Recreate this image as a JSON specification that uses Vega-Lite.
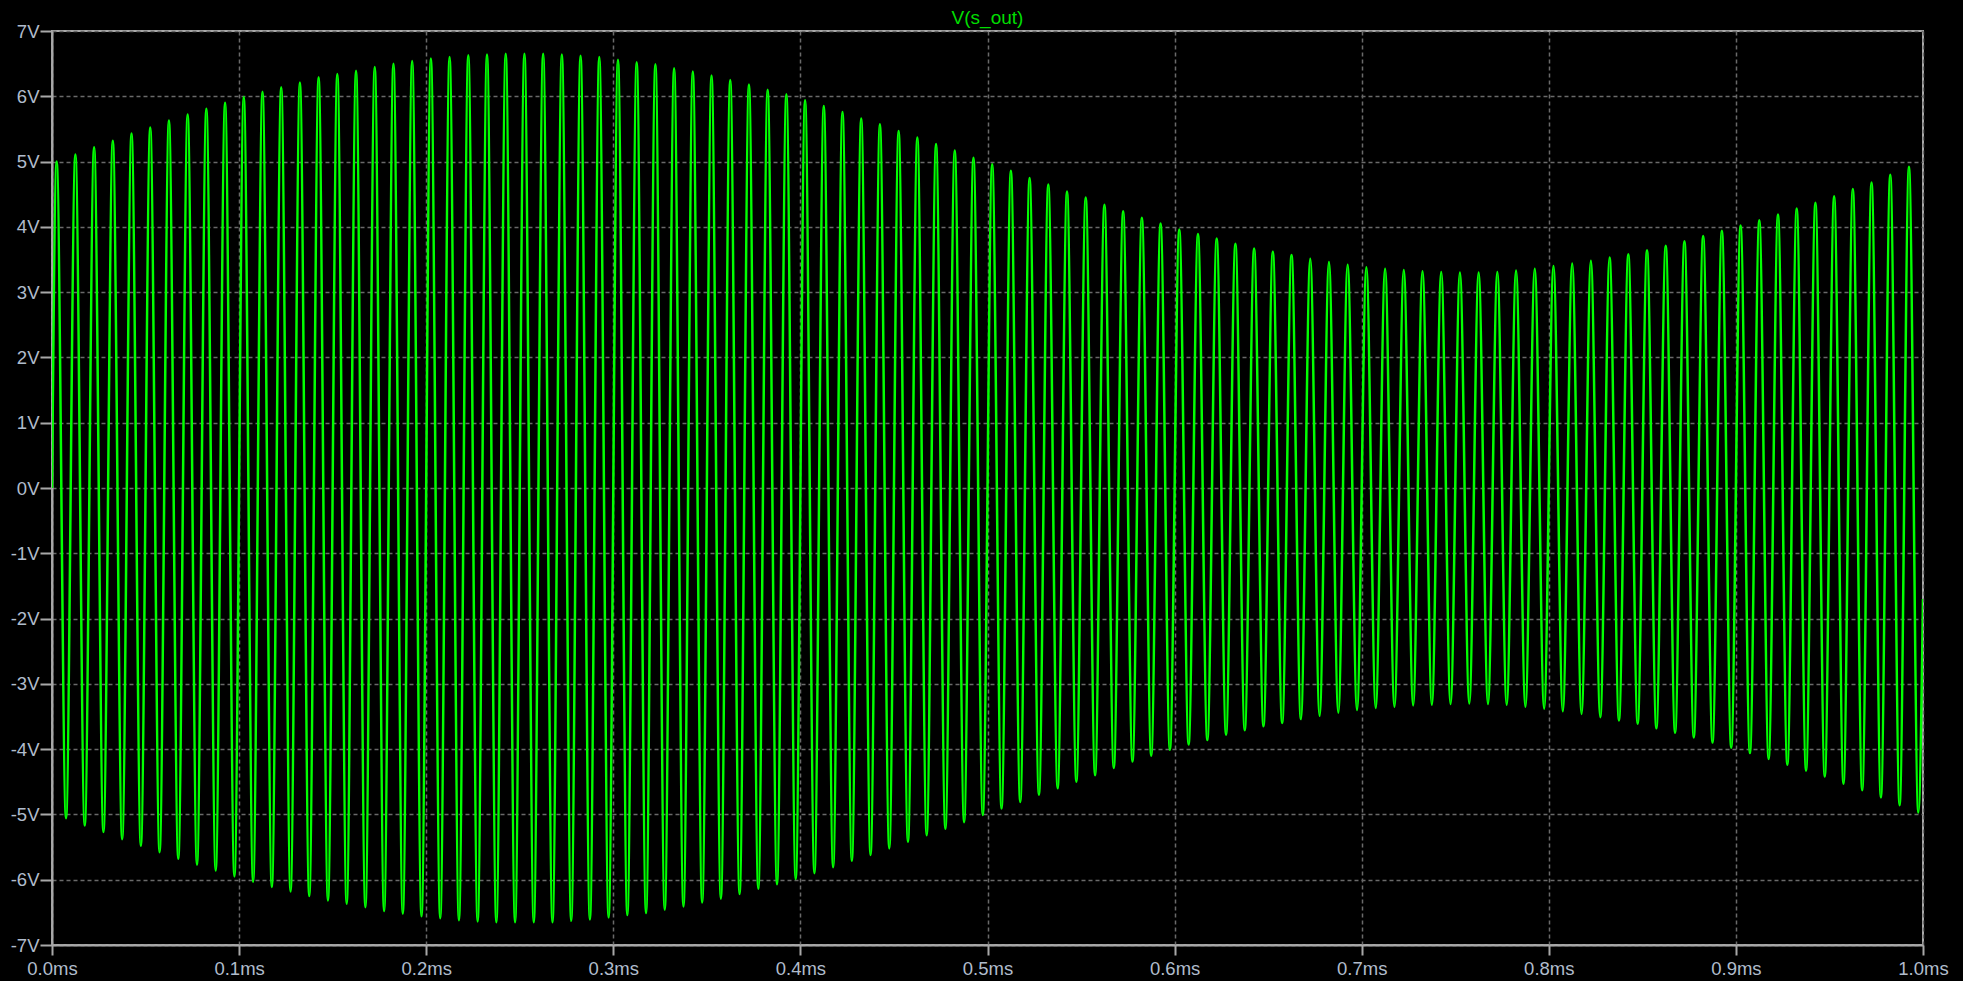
{
  "$schema": "https://vega.github.io/schema/vega-lite/v6.json",
  "width": 1871,
  "height": 914,
  "autosize": {"type": "none"},
  "padding": {"left": 52, "top": 31, "right": 40, "bottom": 36},
  "background": "#000000",
  "title": {
    "text": "V(s_out)",
    "color": "#00dd00",
    "font": "Liberation Sans",
    "fontSize": 19,
    "fontWeight": "normal",
    "anchor": "middle",
    "baseline": "alphabetic",
    "offset": -21
  },
  "data": {
    "values": [
      {"t": 0, "v": 0},
      {"t": 0.0025, "v": 5.00}, {"t": 0.0075, "v": -5.06},
      {"t": 0.0125, "v": 5.11}, {"t": 0.0175, "v": -5.17},
      {"t": 0.0225, "v": 5.22}, {"t": 0.0275, "v": -5.27},
      {"t": 0.0325, "v": 5.32}, {"t": 0.0375, "v": -5.38},
      {"t": 0.0425, "v": 5.43}, {"t": 0.0475, "v": -5.48},
      {"t": 0.0525, "v": 5.52}, {"t": 0.0575, "v": -5.58},
      {"t": 0.0625, "v": 5.63}, {"t": 0.0675, "v": -5.68},
      {"t": 0.0725, "v": 5.72}, {"t": 0.0775, "v": -5.77},
      {"t": 0.0825, "v": 5.81}, {"t": 0.0875, "v": -5.86},
      {"t": 0.0925, "v": 5.90}, {"t": 0.0975, "v": -5.95},
      {"t": 0.1025, "v": 5.99}, {"t": 0.1075, "v": -6.03},
      {"t": 0.1125, "v": 6.07}, {"t": 0.1175, "v": -6.11},
      {"t": 0.1225, "v": 6.14}, {"t": 0.1275, "v": -6.18},
      {"t": 0.1325, "v": 6.21}, {"t": 0.1375, "v": -6.25},
      {"t": 0.1425, "v": 6.29}, {"t": 0.1475, "v": -6.32},
      {"t": 0.1525, "v": 6.34}, {"t": 0.1575, "v": -6.37},
      {"t": 0.1625, "v": 6.39}, {"t": 0.1675, "v": -6.42},
      {"t": 0.1725, "v": 6.45}, {"t": 0.1775, "v": -6.48},
      {"t": 0.1825, "v": 6.50}, {"t": 0.1875, "v": -6.52},
      {"t": 0.1925, "v": 6.54}, {"t": 0.1975, "v": -6.56},
      {"t": 0.2025, "v": 6.58}, {"t": 0.2075, "v": -6.59},
      {"t": 0.2125, "v": 6.60}, {"t": 0.2175, "v": -6.62},
      {"t": 0.2225, "v": 6.63}, {"t": 0.2275, "v": -6.64},
      {"t": 0.2325, "v": 6.64}, {"t": 0.2375, "v": -6.65},
      {"t": 0.2425, "v": 6.65}, {"t": 0.2475, "v": -6.65},
      {"t": 0.2525, "v": 6.65}, {"t": 0.2575, "v": -6.65},
      {"t": 0.2625, "v": 6.65}, {"t": 0.2675, "v": -6.65},
      {"t": 0.2725, "v": 6.64}, {"t": 0.2775, "v": -6.63},
      {"t": 0.2825, "v": 6.62}, {"t": 0.2875, "v": -6.61},
      {"t": 0.2925, "v": 6.60}, {"t": 0.2975, "v": -6.58},
      {"t": 0.3025, "v": 6.56}, {"t": 0.3075, "v": -6.54},
      {"t": 0.3125, "v": 6.52}, {"t": 0.3175, "v": -6.51},
      {"t": 0.3225, "v": 6.49}, {"t": 0.3275, "v": -6.46},
      {"t": 0.3325, "v": 6.43}, {"t": 0.3375, "v": -6.41},
      {"t": 0.3425, "v": 6.38}, {"t": 0.3475, "v": -6.35},
      {"t": 0.3525, "v": 6.32}, {"t": 0.3575, "v": -6.29},
      {"t": 0.3625, "v": 6.25}, {"t": 0.3675, "v": -6.22},
      {"t": 0.3725, "v": 6.18}, {"t": 0.3775, "v": -6.14},
      {"t": 0.3825, "v": 6.10}, {"t": 0.3875, "v": -6.07},
      {"t": 0.3925, "v": 6.03}, {"t": 0.3975, "v": -5.99},
      {"t": 0.4025, "v": 5.94}, {"t": 0.4075, "v": -5.90},
      {"t": 0.4125, "v": 5.85}, {"t": 0.4175, "v": -5.81},
      {"t": 0.4225, "v": 5.76}, {"t": 0.4275, "v": -5.71},
      {"t": 0.4325, "v": 5.66}, {"t": 0.4375, "v": -5.62},
      {"t": 0.4425, "v": 5.57}, {"t": 0.4475, "v": -5.52},
      {"t": 0.4525, "v": 5.47}, {"t": 0.4575, "v": -5.42},
      {"t": 0.4625, "v": 5.37}, {"t": 0.4675, "v": -5.32},
      {"t": 0.4725, "v": 5.27}, {"t": 0.4775, "v": -5.22},
      {"t": 0.4825, "v": 5.17}, {"t": 0.4875, "v": -5.12},
      {"t": 0.4925, "v": 5.06}, {"t": 0.4975, "v": -5.01},
      {"t": 0.5025, "v": 4.96}, {"t": 0.5075, "v": -4.91},
      {"t": 0.5125, "v": 4.86}, {"t": 0.5175, "v": -4.81},
      {"t": 0.5225, "v": 4.75}, {"t": 0.5275, "v": -4.70},
      {"t": 0.5325, "v": 4.65}, {"t": 0.5375, "v": -4.60},
      {"t": 0.5425, "v": 4.54}, {"t": 0.5475, "v": -4.50},
      {"t": 0.5525, "v": 4.45}, {"t": 0.5575, "v": -4.40},
      {"t": 0.5625, "v": 4.34}, {"t": 0.5675, "v": -4.29},
      {"t": 0.5725, "v": 4.24}, {"t": 0.5775, "v": -4.19},
      {"t": 0.5825, "v": 4.14}, {"t": 0.5875, "v": -4.10},
      {"t": 0.5925, "v": 4.05}, {"t": 0.5975, "v": -4.01},
      {"t": 0.6025, "v": 3.96}, {"t": 0.6075, "v": -3.93},
      {"t": 0.6125, "v": 3.89}, {"t": 0.6175, "v": -3.86},
      {"t": 0.6225, "v": 3.82}, {"t": 0.6275, "v": -3.78},
      {"t": 0.6325, "v": 3.74}, {"t": 0.6375, "v": -3.71},
      {"t": 0.6425, "v": 3.67}, {"t": 0.6475, "v": -3.65},
      {"t": 0.6525, "v": 3.62}, {"t": 0.6575, "v": -3.60},
      {"t": 0.6625, "v": 3.57}, {"t": 0.6675, "v": -3.54},
      {"t": 0.6725, "v": 3.51}, {"t": 0.6775, "v": -3.49},
      {"t": 0.6825, "v": 3.46}, {"t": 0.6875, "v": -3.44},
      {"t": 0.6925, "v": 3.42}, {"t": 0.6975, "v": -3.40},
      {"t": 0.7025, "v": 3.38}, {"t": 0.7075, "v": -3.37},
      {"t": 0.7125, "v": 3.36}, {"t": 0.7175, "v": -3.35},
      {"t": 0.7225, "v": 3.34}, {"t": 0.7275, "v": -3.33},
      {"t": 0.7325, "v": 3.32}, {"t": 0.7375, "v": -3.32},
      {"t": 0.7425, "v": 3.31}, {"t": 0.7475, "v": -3.31},
      {"t": 0.7525, "v": 3.30}, {"t": 0.7575, "v": -3.30},
      {"t": 0.7625, "v": 3.30}, {"t": 0.7675, "v": -3.31},
      {"t": 0.7725, "v": 3.31}, {"t": 0.7775, "v": -3.32},
      {"t": 0.7825, "v": 3.33}, {"t": 0.7875, "v": -3.35},
      {"t": 0.7925, "v": 3.36}, {"t": 0.7975, "v": -3.38},
      {"t": 0.8025, "v": 3.40}, {"t": 0.8075, "v": -3.42},
      {"t": 0.8125, "v": 3.44}, {"t": 0.8175, "v": -3.46},
      {"t": 0.8225, "v": 3.48}, {"t": 0.8275, "v": -3.51},
      {"t": 0.8325, "v": 3.53}, {"t": 0.8375, "v": -3.56},
      {"t": 0.8425, "v": 3.58}, {"t": 0.8475, "v": -3.61},
      {"t": 0.8525, "v": 3.64}, {"t": 0.8575, "v": -3.68},
      {"t": 0.8625, "v": 3.71}, {"t": 0.8675, "v": -3.75},
      {"t": 0.8725, "v": 3.78}, {"t": 0.8775, "v": -3.82},
      {"t": 0.8825, "v": 3.86}, {"t": 0.8875, "v": -3.90},
      {"t": 0.8925, "v": 3.94}, {"t": 0.8975, "v": -3.98},
      {"t": 0.9025, "v": 4.02}, {"t": 0.9075, "v": -4.06},
      {"t": 0.9125, "v": 4.10}, {"t": 0.9175, "v": -4.15},
      {"t": 0.9225, "v": 4.19}, {"t": 0.9275, "v": -4.24},
      {"t": 0.9325, "v": 4.28}, {"t": 0.9375, "v": -4.33},
      {"t": 0.9425, "v": 4.37}, {"t": 0.9475, "v": -4.42},
      {"t": 0.9525, "v": 4.47}, {"t": 0.9575, "v": -4.53},
      {"t": 0.9625, "v": 4.58}, {"t": 0.9675, "v": -4.63},
      {"t": 0.9725, "v": 4.68}, {"t": 0.9775, "v": -4.74},
      {"t": 0.9825, "v": 4.80}, {"t": 0.9875, "v": -4.86},
      {"t": 0.9925, "v": 4.92}, {"t": 0.9975, "v": -4.97},
      {"t": 1.0, "v": -1.7}
    ]
  },
  "mark": {
    "type": "line",
    "color": "#00ff00",
    "strokeWidth": 2.5,
    "interpolate": "monotone",
    "clip": true
  },
  "encoding": {
    "x": {
      "field": "t",
      "type": "quantitative",
      "scale": {"domain": [0, 1], "nice": false, "zero": false},
      "axis": {
        "title": null,
        "values": [0, 0.1, 0.2, 0.3, 0.4, 0.5, 0.6, 0.7, 0.8, 0.9, 1.0],
        "labelExpr": "format(datum.value, '.1f') + 'ms'",
        "labelFlush": false,
        "labelOverlap": false,
        "tickSize": 10,
        "labelPadding": 4
      }
    },
    "y": {
      "field": "v",
      "type": "quantitative",
      "scale": {"domain": [-7, 7], "nice": false},
      "axis": {
        "title": null,
        "values": [-7, -6, -5, -4, -3, -2, -1, 0, 1, 2, 3, 4, 5, 6, 7],
        "labelExpr": "datum.value + 'V'",
        "labelFlush": false,
        "labelOverlap": false,
        "tickSize": 12,
        "labelPadding": 1
      }
    }
  },
  "config": {
    "view": {"stroke": "#a8a8a8", "strokeWidth": 2, "fill": "#000000"},
    "axis": {
      "domainColor": "#a8a8a8",
      "domainWidth": 2,
      "tickColor": "#a8a8a8",
      "tickWidth": 2,
      "grid": true,
      "gridColor": "#6a6a6a",
      "gridDash": [4, 3],
      "gridWidth": 1.5,
      "labelColor": "#b0bccc",
      "labelFont": "Liberation Sans",
      "labelFontSize": 18.5
    }
  }
}
